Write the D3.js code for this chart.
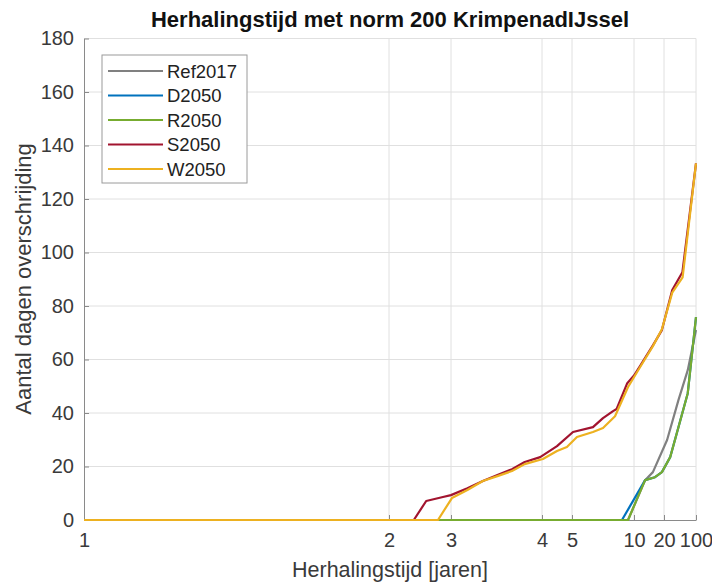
<!DOCTYPE html>
<html><head><meta charset="utf-8">
<script src="https://cdn.jsdelivr.net/npm/d3@7"></script>
<style>
html,body{margin:0;padding:0;background:#fff;}
svg{display:block;font-family:"Liberation Sans",Arial,Helvetica,sans-serif;}
</style></head>
<body>
<svg id="chart" width="712" height="584"></svg>
<script>
// ---- data ----
const xTickValues = [1, 2, 3, 4, 5, 10, 20, 100];
const xTickLabels = ["1", "2", "3", "4", "5", "10", "20", "100"];
const yTickValues = [0, 20, 40, 60, 80, 100, 120, 140, 160, 180];

const seriesNames  = ["Ref2017", "D2050", "R2050", "S2050", "W2050"];
const seriesColors = ["#808080", "#0072BD", "#77AC30", "#A2142F", "#EDB120"];

const ref2017T    = [1, 9.52, 13.7, 16.3, 27.7, 56.1, 79.4, 100];
const ref2017Days = [0, 0, 14.9, 17.9, 29.9, 44.8, 56, 71];

const d2050T    = [1, 9.03, 13.7, 17, 19.3, 35.5, 56.1, 79.4, 100];
const d2050Days = [0, 0, 14.9, 16, 17.9, 23.5, 34.7, 47.4, 75.8];

const r2050T    = [1, 9.52, 13.7, 17, 19.3, 35.5, 56.1, 79.4, 100];
const r2050Days = [0, 0, 14.9, 16, 17.9, 23.5, 34.7, 47.4, 75.8];

const s2050T    = [1, 2.40, 2.60, 2.87, 3.0, 3.18, 3.35, 3.51, 3.67, 3.81, 3.98, 4.5, 5.08, 6.69, 7.5, 8.31, 8.6, 9.44, 10, 12, 16.3, 19.3, 40.6, 66, 100];
const s2050Days = [0, 0, 7.1, 8.6, 9.3, 11.9, 14.6, 16.8, 19.0, 21.7, 23.5, 27.6, 32.9, 34.7, 38.1, 40.7, 41.5, 51, 54, 57.5, 65.3, 71, 86, 92.6, 133.3];

const w2050T    = [1, 2.79, 3.01, 3.18, 3.35, 3.51, 3.67, 3.81, 4.03, 4.5, 4.83, 5.4, 6.69, 7.5, 8.47, 9.52, 12, 16.3, 19.3, 40.6, 66.5, 100];
const w2050Days = [0, 0, 8.2, 11.2, 14.6, 16.4, 18.3, 20.9, 22.8, 25.8, 27.3, 31.0, 32.9, 34.4, 38.8, 49.7, 57.1, 65, 71.3, 85, 90.7, 133.3];

const seriesT    = [ref2017T, d2050T, r2050T, s2050T, w2050T];
const seriesDays = [ref2017Days, d2050Days, r2050Days, s2050Days, w2050Days];

// ---- layout ----
const svg = d3.select("#chart");
const mLeft = 84, mRight = 696, mTop = 38.5, mBottom = 520;
const xTickPx = [84, 389, 451, 542, 572, 634, 664, 696];

const x = d3.scaleLinear().domain(xTickValues).range(xTickPx);
const y = d3.scaleLinear().domain([0, 180]).range([mBottom, mTop]);

const gridColor = "#e0e0e0";
const axisColor = "#8a8a8a";
const textColor = "#3a3a3a";

// grid
const grid = svg.append("g");
grid.selectAll("line.v").data(xTickValues.slice(1)).enter().append("line")
  .attr("x1", d => x(d)).attr("x2", d => x(d))
  .attr("y1", mTop).attr("y2", mBottom)
  .attr("stroke", gridColor).attr("stroke-width", 1);
grid.selectAll("line.h").data(yTickValues.slice(1)).enter().append("line")
  .attr("x1", mLeft).attr("x2", mRight)
  .attr("y1", d => y(d)).attr("y2", d => y(d))
  .attr("stroke", gridColor).attr("stroke-width", 1);

// axes
const xAxis = d3.axisBottom(x).tickValues(xTickValues)
  .tickFormat((d, i) => xTickLabels[i]).tickSizeInner(-5).tickSizeOuter(0).tickPadding(13);
const gx = svg.append("g").attr("transform", `translate(0,${mBottom})`).call(xAxis);
gx.select(".domain").attr("stroke", axisColor);
gx.selectAll(".tick line").attr("stroke", axisColor);
gx.selectAll(".tick text").attr("fill", textColor).attr("font-size", 20)
  .attr("font-family", "Liberation Sans, Arial, sans-serif");

const yAxis = d3.axisLeft(y).tickValues(yTickValues).tickSizeInner(-5).tickSizeOuter(0).tickPadding(10);
const gy = svg.append("g").attr("transform", `translate(${mLeft},0)`).call(yAxis);
gy.select(".domain").attr("stroke", axisColor);
gy.selectAll(".tick line").attr("stroke", axisColor);
gy.selectAll(".tick text").attr("fill", textColor).attr("font-size", 20)
  .attr("font-family", "Liberation Sans, Arial, sans-serif");

// lines
const line = d3.line().x(d => x(d[0])).y(d => y(d[1]));
seriesNames.forEach((name, i) => {
  const pts = seriesT[i].map((t, j) => [t, seriesDays[i][j]]);
  svg.append("path").datum(pts)
    .attr("d", line)
    .attr("fill", "none")
    .attr("stroke", seriesColors[i])
    .attr("stroke-width", 2.2)
    .attr("stroke-linejoin", "round");
});

// title and labels
svg.append("text").attr("x", 390).attr("y", 27).attr("text-anchor", "middle")
  .attr("font-size", 22).attr("font-weight", "bold").attr("fill", "#111")
  .text("Herhalingstijd met norm 200 KrimpenadIJssel");
svg.append("text").attr("x", 390).attr("y", 577).attr("text-anchor", "middle")
  .attr("font-size", 21.5).attr("fill", textColor)
  .text("Herhalingstijd [jaren]");
svg.append("text").attr("transform", "translate(31,279) rotate(-90)")
  .attr("text-anchor", "middle").attr("font-size", 22).attr("fill", textColor)
  .text("Aantal dagen overschrijding");

// legend
const lg = svg.append("g");
lg.append("rect").attr("x", 102).attr("y", 55).attr("width", 145).attr("height", 128)
  .attr("fill", "#fff").attr("stroke", "#9a9a9a").attr("stroke-width", 1);
seriesNames.forEach((name, i) => {
  const ly = 71 + i * 24.5;
  lg.append("line").attr("x1", 108).attr("x2", 163).attr("y1", ly).attr("y2", ly)
    .attr("stroke", seriesColors[i]).attr("stroke-width", 2.2);
  lg.append("text").attr("x", 167).attr("y", ly + 6.5).attr("font-size", 18.5)
    .attr("fill", "#222").text(name);
});
</script>
</body></html>
